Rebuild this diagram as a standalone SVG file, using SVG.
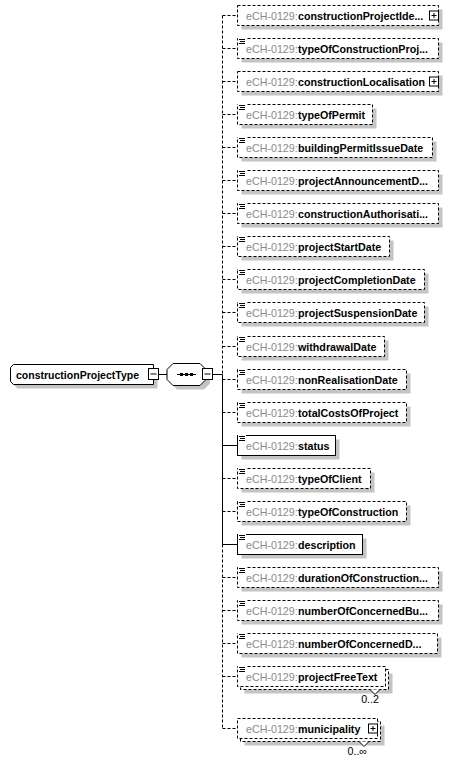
<svg xmlns="http://www.w3.org/2000/svg" width="453" height="762" viewBox="0 0 453 762">
<style>
text{font-family:"Liberation Sans",Arial,sans-serif;font-size:10.7px;}
.ns{fill:#8a8a8a;}
.nm{fill:#000;font-weight:bold;}
.sh{fill:#c4c4c4;stroke:none;}
.bx{fill:#fff;stroke:#000;stroke-width:1;}
.opt{stroke-dasharray:3,2;}
.ln{stroke:#000;stroke-width:1;fill:none;}
.ic{stroke:#000;stroke-width:1;}
.mult{fill:#000;}
</style>
<defs>
<g id="doc"><rect x="0" y="-1" width="8" height="7" fill="#fff"/><path class="ic" d="M1,0.5H7M2,2.5H7M1,4.5H7"/></g>
<g id="plus"><rect x="0" y="0" width="9" height="9" fill="#fff" stroke="#000"/><path class="ic" d="M2,4.5H7M4.5,2V7"/></g>
</defs>

<g id="connectors">
<path class="ln" d="M158.5,374.5H167"/>
<path class="ln" d="M212,374.5H222.5"/>
<path class="ln opt" d="M222.5,15.5V374.5"/>
<path class="ln" d="M222.5,374.5V544.5"/>
<path class="ln opt" d="M222.5,544.5V728.5"/>
<path class="ln opt" d="M222.5,15.5H237.5M222.5,48.5H237.5M222.5,81.5H237.5M222.5,114.5H237.5M222.5,147.5H237.5M222.5,180.5H237.5M222.5,213.5H237.5M222.5,246.5H237.5M222.5,279.5H237.5M222.5,312.5H237.5M222.5,346.5H237.5M222.5,379.5H237.5M222.5,412.5H237.5M222.5,478.5H237.5M222.5,511.5H237.5M222.5,577.5H237.5M222.5,610.5H237.5M222.5,643.5H237.5M222.5,676.5H237.5M222.5,728.5H237.5"/>
<path class="ln" d="M222.5,445.5H237.5M222.5,544.5H237.5"/>
</g>

<g id="constructionProjectType">
<path class="sh" d="M17.5,368.5H157.5V388.5H17.5L14.5,385.5V371.5Z"/>
<path class="bx" d="M13.5,364.5H153.5V384.5H13.5L10.5,381.5V367.5Z"/>
<text x="16" y="378.5" class="nm" textLength="123" lengthAdjust="spacingAndGlyphs">constructionProjectType</text>
<rect class="bx" x="148.5" y="368.5" width="10" height="11"/>
<path class="ic" d="M150.5,374H156.5"/>
</g>

<g id="sequence">
<path class="sh" d="M177,367.5H204L210,373.5V383.5L204,389.5H177L171,383.5V373.5Z"/>
<path class="bx" d="M173,363.5H200L206,369.5V379.5L200,385.5H173L167,379.5V369.5Z"/>
<path class="ic" d="M177,374.5H196"/>
<rect x="180" y="373" width="3" height="3" fill="#000"/>
<rect x="185" y="373" width="3" height="3" fill="#000"/>
<rect x="190" y="373" width="3" height="3" fill="#000"/>
<rect class="bx" x="202.5" y="368.5" width="10" height="11"/>
<path class="ic" d="M204.5,374H210.5"/>
</g>

<g id="e1"><rect class="sh" x="241.5" y="9.5" width="201" height="20"/><rect class="bx opt" x="237.5" y="5.5" width="201" height="20"/><text x="246" y="19.5" class="ns">eCH-0129:</text><text x="298" y="19.5" class="nm">constructionProjectIde...</text><use href="#plus" x="429.5" y="11"/></g>
<g id="e2"><rect class="sh" x="241.5" y="42.5" width="201" height="20"/><rect class="bx opt" x="237.5" y="38.5" width="201" height="20"/><use href="#doc" x="238" y="39"/><text x="246" y="52.5" class="ns">eCH-0129:</text><text x="298" y="52.5" class="nm">typeOfConstructionProj...</text></g>
<g id="e3"><rect class="sh" x="241.5" y="75.5" width="201" height="20"/><rect class="bx opt" x="237.5" y="71.5" width="201" height="20"/><text x="246" y="85.5" class="ns">eCH-0129:</text><text x="298" y="85.5" class="nm">constructionLocalisation</text><use href="#plus" x="429.5" y="77"/></g>
<g id="e4"><rect class="sh" x="241.5" y="108.5" width="135" height="20"/><rect class="bx opt" x="237.5" y="104.5" width="135" height="20"/><use href="#doc" x="238" y="105"/><text x="246" y="118.5" class="ns">eCH-0129:</text><text x="298" y="118.5" class="nm">typeOfPermit</text></g>
<g id="e5"><rect class="sh" x="241.5" y="141.5" width="195" height="20"/><rect class="bx opt" x="237.5" y="137.5" width="195" height="20"/><use href="#doc" x="238" y="138"/><text x="246" y="151.5" class="ns">eCH-0129:</text><text x="298" y="151.5" class="nm">buildingPermitIssueDate</text></g>
<g id="e6"><rect class="sh" x="241.5" y="174.5" width="201" height="20"/><rect class="bx opt" x="237.5" y="170.5" width="201" height="20"/><use href="#doc" x="238" y="171"/><text x="246" y="184.5" class="ns">eCH-0129:</text><text x="298" y="184.5" class="nm">projectAnnouncementD...</text></g>
<g id="e7"><rect class="sh" x="241.5" y="207.5" width="201" height="20"/><rect class="bx opt" x="237.5" y="203.5" width="201" height="20"/><use href="#doc" x="238" y="204"/><text x="246" y="217.5" class="ns">eCH-0129:</text><text x="298" y="217.5" class="nm">constructionAuthorisati...</text></g>
<g id="e8"><rect class="sh" x="241.5" y="240.5" width="152" height="20"/><rect class="bx opt" x="237.5" y="236.5" width="152" height="20"/><use href="#doc" x="238" y="237"/><text x="246" y="250.5" class="ns">eCH-0129:</text><text x="298" y="250.5" class="nm">projectStartDate</text></g>
<g id="e9"><rect class="sh" x="241.5" y="273.5" width="187" height="20"/><rect class="bx opt" x="237.5" y="269.5" width="187" height="20"/><use href="#doc" x="238" y="270"/><text x="246" y="283.5" class="ns">eCH-0129:</text><text x="298" y="283.5" class="nm">projectCompletionDate</text></g>
<g id="e10"><rect class="sh" x="241.5" y="306.5" width="187" height="20"/><rect class="bx opt" x="237.5" y="302.5" width="187" height="20"/><use href="#doc" x="238" y="303"/><text x="246" y="316.5" class="ns">eCH-0129:</text><text x="298" y="316.5" class="nm">projectSuspensionDate</text></g>
<g id="e11"><rect class="sh" x="241.5" y="340.5" width="147" height="20"/><rect class="bx opt" x="237.5" y="336.5" width="147" height="20"/><use href="#doc" x="238" y="337"/><text x="246" y="350.5" class="ns">eCH-0129:</text><text x="298" y="350.5" class="nm">withdrawalDate</text></g>
<g id="e12"><rect class="sh" x="241.5" y="373.5" width="169" height="20"/><rect class="bx opt" x="237.5" y="369.5" width="169" height="20"/><use href="#doc" x="238" y="370"/><text x="246" y="383.5" class="ns">eCH-0129:</text><text x="298" y="383.5" class="nm">nonRealisationDate</text></g>
<g id="e13"><rect class="sh" x="241.5" y="406.5" width="169" height="20"/><rect class="bx opt" x="237.5" y="402.5" width="169" height="20"/><use href="#doc" x="238" y="403"/><text x="246" y="416.5" class="ns">eCH-0129:</text><text x="298" y="416.5" class="nm">totalCostsOfProject</text></g>
<g id="e14"><rect class="sh" x="241.5" y="439.5" width="98" height="20"/><rect class="bx" x="237.5" y="435.5" width="98" height="20"/><use href="#doc" x="238" y="436"/><text x="246" y="449.5" class="ns">eCH-0129:</text><text x="298" y="449.5" class="nm">status</text></g>
<g id="e15"><rect class="sh" x="241.5" y="472.5" width="133" height="20"/><rect class="bx opt" x="237.5" y="468.5" width="133" height="20"/><use href="#doc" x="238" y="469"/><text x="246" y="482.5" class="ns">eCH-0129:</text><text x="298" y="482.5" class="nm">typeOfClient</text></g>
<g id="e16"><rect class="sh" x="241.5" y="505.5" width="169" height="20"/><rect class="bx opt" x="237.5" y="501.5" width="169" height="20"/><use href="#doc" x="238" y="502"/><text x="246" y="515.5" class="ns">eCH-0129:</text><text x="298" y="515.5" class="nm">typeOfConstruction</text></g>
<g id="e17"><rect class="sh" x="241.5" y="538.5" width="125" height="20"/><rect class="bx" x="237.5" y="534.5" width="125" height="20"/><use href="#doc" x="238" y="535"/><text x="246" y="548.5" class="ns">eCH-0129:</text><text x="298" y="548.5" class="nm">description</text></g>
<g id="e18"><rect class="sh" x="241.5" y="571.5" width="201" height="20"/><rect class="bx opt" x="237.5" y="567.5" width="201" height="20"/><use href="#doc" x="238" y="568"/><text x="246" y="581.5" class="ns">eCH-0129:</text><text x="298" y="581.5" class="nm">durationOfConstruction...</text></g>
<g id="e19"><rect class="sh" x="241.5" y="604.5" width="201" height="20"/><rect class="bx opt" x="237.5" y="600.5" width="201" height="20"/><use href="#doc" x="238" y="601"/><text x="246" y="614.5" class="ns">eCH-0129:</text><text x="298" y="614.5" class="nm">numberOfConcernedBu...</text></g>
<g id="e20"><rect class="sh" x="241.5" y="637.5" width="200" height="20"/><rect class="bx opt" x="237.5" y="633.5" width="200" height="20"/><use href="#doc" x="238" y="634"/><text x="246" y="647.5" class="ns">eCH-0129:</text><text x="298" y="647.5" class="nm">numberOfConcernedD...</text></g>
<g id="e21"><rect class="sh" x="244.5" y="673.5" width="148" height="20"/><rect class="bx opt" x="240.5" y="669.5" width="148" height="20"/><rect class="bx opt" x="237.5" y="666.5" width="148" height="20"/><use href="#doc" x="238" y="667"/><text x="246" y="680.5" class="ns">eCH-0129:</text><text x="298" y="680.5" class="nm">projectFreeText</text><path class="bx" d="M370,689.5L375,694.5L380,689.5"/><text x="379" y="703" text-anchor="end" class="mult">0..2</text></g>
<g id="e22"><rect class="sh" x="244.5" y="725.5" width="140" height="20"/><rect class="bx opt" x="240.5" y="721.5" width="140" height="20"/><rect class="bx opt" x="237.5" y="718.5" width="140" height="20"/><text x="246" y="732.5" class="ns">eCH-0129:</text><text x="298" y="732.5" class="nm">municipality</text><use href="#plus" x="368.5" y="724"/><path class="bx" d="M359,741.5L364,746.5L369,741.5"/><text x="367" y="755" text-anchor="end" class="mult">0..∞</text></g>
</svg>
